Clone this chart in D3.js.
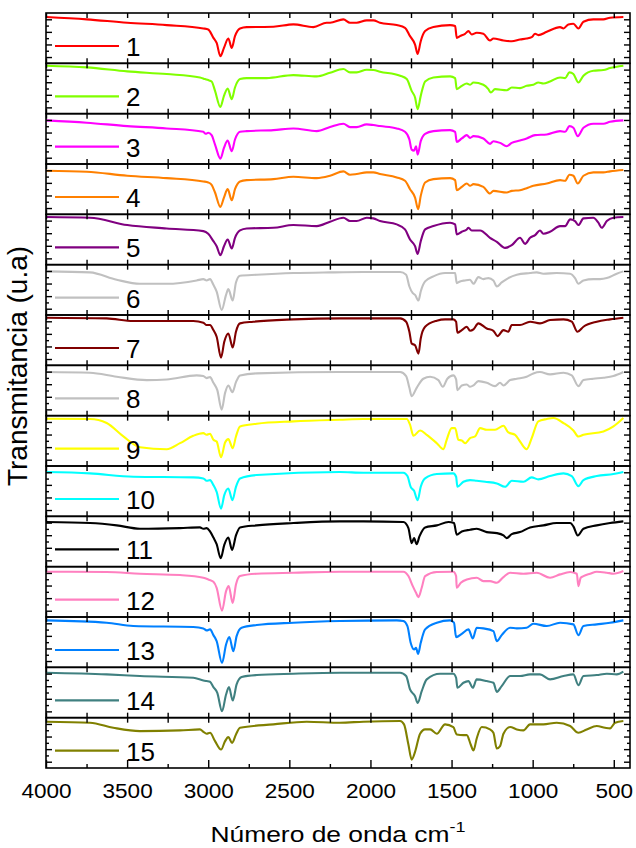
<!DOCTYPE html>
<html>
<head>
<meta charset="utf-8">
<script src="https://cdn.jsdelivr.net/npm/d3@7"></script>
<style>
  body { margin: 0; background: #fff; }
  svg { display: block; }
  text { font-family: "Liberation Sans", Arial, sans-serif; fill: #000; }
</style>
</head>
<body>
<svg id="chart" width="636" height="848"></svg>
<script>
// FTIR spectra of 15 samples, stacked panels (wavenumber in cm-1, transmittance in a.u.)
const sampleLabels = ["1","2","3","4","5","6","7","8","9","10","11","12","13","14","15"];
const sampleColors = ["#ff0000","#80ff00","#ff00ff","#ff8000","#800080","#c0c0c0","#800000",
                      "#c0c0c0","#ffff00","#00ffff","#000000","#ff80c0","#0080ff","#408080","#808000"];
const majorTicks = [4000,3500,3000,2500,2000,1500,1000,500];
const minorTicks = [3750,3250,2750,2250,1750,1250,750];

const spectrum1 = [[4000,138],[3749,131],[3499,121],[3256,114],[3030,104],[3000,101],[2968,76],[2948,61],[2925,21],[2903,46],[2876,74],[2855,46],[2835,81],[2804,104],[2763,108],[2598,109],[2475,116],[2352,108],[2270,121],[2249,121],[2167,131],[2126,121],[2085,121],[2023,128],[1982,128],[1941,121],[1838,114],[1787,106],[1756,81],[1725,56],[1709,28],[1690,66],[1663,96],[1612,108],[1509,114],[1478,111],[1468,76],[1448,81],[1417,88],[1396,96],[1376,86],[1345,91],[1304,88],[1263,68],[1242,74],[1180,68],[1129,66],[1078,71],[1037,74],[1006,78],[985,88],[965,84],[913,94],[831,108],[810,104],[780,116],[749,118],[718,104],[687,124],[626,131],[564,131],[523,136],[441,138]];
const spectrum2 = [[4000,143],[3749,138],[3499,126],[3256,118],[3051,108],[3020,103],[3000,100],[2979,96],[2958,68],[2925,20],[2903,53],[2880,75],[2855,43],[2835,78],[2804,103],[2763,106],[2640,106],[2475,115],[2331,111],[2249,122],[2167,133],[2126,123],[2085,123],[2023,131],[1982,130],[1941,125],[1817,113],[1776,103],[1746,68],[1725,48],[1709,13],[1690,53],[1663,96],[1612,108],[1509,111],[1478,106],[1468,73],[1437,83],[1406,90],[1386,86],[1365,93],[1304,86],[1273,73],[1258,63],[1232,73],[1160,70],[1129,78],[1078,76],[1037,83],[996,86],[965,93],[934,90],[893,96],[831,108],[800,106],[773,123],[749,118],[718,93],[687,113],[626,128],[564,130],[523,136],[441,143]];
const spectrum3 = [[4000,130],[3749,123],[3499,113],[3256,106],[3030,96],[3016,90],[3000,93],[2979,86],[2958,58],[2925,16],[2903,48],[2880,70],[2855,38],[2835,73],[2804,96],[2763,98],[2598,101],[2475,106],[2331,98],[2249,110],[2167,120],[2126,110],[2085,110],[2023,118],[1982,116],[1941,113],[1838,106],[1787,96],[1760,73],[1746,43],[1731,40],[1719,53],[1709,28],[1690,68],[1663,90],[1612,98],[1509,101],[1478,96],[1468,66],[1437,76],[1406,86],[1386,78],[1365,83],[1304,76],[1263,60],[1242,68],[1201,63],[1160,53],[1129,63],[1078,70],[1037,76],[985,86],[913,88],[831,98],[800,96],[773,113],[749,108],[722,83],[687,108],[626,120],[564,120],[523,126],[441,130]];
const spectrum4 = [[4000,130],[3749,127],[3499,115],[3256,108],[3030,98],[3000,95],[2979,88],[2958,65],[2925,22],[2903,50],[2880,75],[2855,42],[2835,75],[2804,98],[2763,102],[2598,105],[2475,112],[2331,108],[2249,115],[2167,128],[2126,118],[2085,120],[2023,125],[1982,125],[1941,120],[1838,110],[1787,100],[1756,75],[1725,50],[1706,15],[1690,55],[1663,95],[1612,105],[1509,108],[1478,102],[1468,72],[1437,82],[1406,92],[1386,85],[1365,90],[1304,82],[1263,62],[1242,70],[1160,65],[1129,70],[1078,72],[1037,78],[996,85],[913,92],[831,102],[800,100],[773,118],[749,115],[722,92],[687,115],[626,125],[564,125],[523,128],[441,132]];
const spectrum5 = [[4000,142],[3729,140],[3499,118],[3256,108],[3030,100],[3000,92],[2968,70],[2948,55],[2925,28],[2903,55],[2880,75],[2855,48],[2835,80],[2804,102],[2763,108],[2598,110],[2475,118],[2331,115],[2249,128],[2167,140],[2126,130],[2085,130],[2023,140],[1982,138],[1941,130],[1838,120],[1787,105],[1756,75],[1725,55],[1709,32],[1690,70],[1663,105],[1612,115],[1509,125],[1478,120],[1468,90],[1437,98],[1406,105],[1396,110],[1376,102],[1324,102],[1263,80],[1221,68],[1170,50],[1129,58],[1078,80],[1047,62],[1016,80],[985,88],[955,102],[934,92],[893,98],[831,115],[800,115],[769,135],[739,130],[718,118],[687,138],[626,140],[595,125],[574,110],[543,130],[502,140],[441,142]];
const spectrum6 = [[4000,130],[3729,127],[3564,105],[3421,93],[3256,93],[3071,103],[3030,107],[3010,103],[2989,107],[2968,90],[2948,70],[2917,15],[2890,60],[2876,77],[2849,43],[2829,97],[2804,117],[2701,120],[2475,125],[2249,127],[2044,128],[1817,128],[1780,120],[1760,85],[1739,65],[1725,60],[1704,43],[1690,70],[1663,100],[1612,115],[1540,125],[1478,125],[1468,95],[1448,100],[1417,103],[1386,105],[1365,93],[1335,113],[1304,107],[1273,110],[1242,103],[1221,85],[1191,97],[1150,110],[1098,120],[1016,125],[975,127],[934,123],[852,125],[769,123],[739,110],[718,93],[687,103],[626,107],[585,107],[543,110],[482,123],[441,130]];
const spectrum7 = [[4000,142],[3626,140],[3462,132],[3092,132],[3030,127],[3010,120],[2989,120],[2968,105],[2948,85],[2921,23],[2901,70],[2876,95],[2849,53],[2829,100],[2804,125],[2722,130],[2475,137],[2188,140],[1817,140],[1780,130],[1760,100],[1746,65],[1725,60],[1704,35],[1690,80],[1663,115],[1591,133],[1540,137],[1489,137],[1472,130],[1464,97],[1437,105],[1406,115],[1386,103],[1365,107],[1335,125],[1283,110],[1242,103],[1217,87],[1180,105],[1150,100],[1129,120],[1078,120],[1016,130],[955,125],[893,135],[810,137],[759,130],[724,100],[687,115],[605,130],[523,137],[441,142]];
const spectrum8 = [[4000,130],[3729,128],[3564,116],[3379,106],[3256,108],[3071,120],[3030,118],[3010,112],[2989,115],[2968,98],[2944,76],[2917,18],[2896,68],[2876,90],[2851,70],[2829,100],[2804,120],[2701,126],[2188,130],[1817,130],[1780,118],[1760,83],[1746,58],[1715,83],[1674,110],[1632,116],[1581,106],[1554,86],[1526,110],[1489,120],[1472,108],[1464,76],[1437,90],[1406,93],[1386,86],[1365,90],[1335,103],[1283,98],[1232,88],[1201,98],[1180,90],[1139,106],[1098,110],[1037,116],[996,126],[955,130],[893,123],[810,128],[759,120],[718,88],[687,106],[626,110],[564,113],[502,118],[441,130]];
const spectrum9 = [[4000,141],[3729,140],[3626,128],[3523,88],[3421,56],[3256,50],[3174,68],[3092,90],[3030,98],[3010,93],[2989,96],[2968,78],[2948,73],[2921,26],[2896,70],[2876,80],[2849,53],[2829,88],[2804,118],[2701,126],[2475,133],[2188,138],[2044,140],[1776,140],[1756,123],[1735,90],[1694,106],[1653,93],[1591,68],[1550,50],[1530,78],[1499,113],[1478,113],[1458,78],[1437,76],[1417,68],[1386,83],[1355,88],[1324,113],[1283,108],[1232,108],[1180,120],[1150,100],[1108,93],[1078,73],[1037,50],[1006,83],[965,133],[913,140],[872,143],[810,128],[749,106],[718,88],[687,93],[564,103],[502,118],[441,143]];
const spectrum10 = [[4000,132],[3729,128],[3462,118],[3092,116],[3030,113],[3010,106],[2989,108],[2968,93],[2948,73],[2921,23],[2901,63],[2876,83],[2851,48],[2829,88],[2804,113],[2701,123],[2188,132],[2044,130],[1797,130],[1772,120],[1752,88],[1731,76],[1709,48],[1690,88],[1663,113],[1591,126],[1489,128],[1472,118],[1464,88],[1427,103],[1386,108],[1345,106],[1293,103],[1221,98],[1170,88],[1129,106],[1057,103],[1006,116],[965,110],[893,120],[810,128],[759,120],[718,90],[687,108],[605,120],[502,126],[441,132]];
const spectrum11 = [[4000,133],[3729,130],[3564,123],[3421,113],[3174,115],[3051,117],[3030,113],[3010,115],[2989,105],[2968,87],[2948,67],[2923,25],[2901,65],[2876,87],[2853,50],[2829,93],[2804,117],[2701,123],[2475,130],[2188,135],[2044,135],[1797,133],[1766,115],[1746,70],[1731,85],[1715,67],[1698,90],[1663,117],[1591,123],[1519,133],[1485,130],[1468,95],[1437,105],[1386,110],[1345,113],[1283,103],[1221,100],[1180,93],[1160,85],[1129,97],[1078,103],[1016,117],[934,123],[852,130],[769,130],[749,120],[722,93],[687,113],[605,123],[523,130],[441,135]];
const spectrum12 = [[4000,135],[3626,134],[3421,129],[3174,125],[3030,117],[3000,112],[2968,105],[2948,87],[2915,19],[2890,77],[2874,92],[2849,42],[2829,97],[2804,122],[2701,129],[2475,132],[2188,135],[1797,135],[1766,122],[1739,92],[1719,72],[1704,59],[1684,87],[1663,122],[1591,134],[1489,135],[1472,122],[1468,87],[1443,102],[1406,112],[1345,117],[1304,107],[1263,107],[1221,102],[1180,119],[1139,132],[1057,129],[975,132],[893,117],[831,127],[769,134],[728,129],[718,92],[704,117],[687,122],[646,129],[605,135],[543,132],[502,129],[441,137]];
const spectrum13 = [[4000,140],[3626,133],[3462,123],[3092,120],[3030,116],[3010,110],[2989,113],[2968,96],[2948,78],[2915,13],[2890,68],[2870,90],[2845,48],[2825,93],[2794,118],[2701,126],[2475,133],[2188,138],[1838,140],[1797,138],[1772,123],[1752,73],[1731,53],[1719,58],[1706,40],[1690,73],[1663,113],[1591,133],[1509,140],[1485,133],[1472,90],[1437,100],[1396,113],[1369,86],[1345,118],[1304,116],[1242,108],[1221,78],[1191,96],[1139,118],[1098,116],[1037,118],[996,130],[913,123],[831,133],[749,128],[718,96],[687,123],[605,128],[523,133],[441,140]];
const spectrum14 = [[4000,134],[3626,129],[3421,124],[3092,119],[3030,111],[3010,109],[2989,107],[2968,91],[2944,74],[2915,19],[2890,69],[2872,91],[2849,51],[2825,99],[2794,121],[2701,127],[2475,131],[2188,134],[1817,134],[1780,124],[1756,84],[1725,64],[1709,44],[1684,79],[1653,114],[1571,131],[1489,131],[1472,119],[1464,89],[1427,104],[1396,109],[1369,89],[1345,114],[1283,109],[1242,104],[1221,77],[1191,94],[1139,124],[1078,124],[1016,129],[955,129],[893,114],[810,124],[749,129],[718,97],[687,124],[605,127],[543,131],[482,129],[441,137]];
const spectrum15 = [[4000,138],[3729,135],[3585,120],[3421,110],[3174,112],[3051,115],[3030,108],[3010,102],[2989,105],[2958,80],[2921,55],[2896,80],[2876,92],[2853,75],[2829,100],[2804,120],[2598,130],[2393,138],[2188,135],[2044,138],[1817,140],[1793,130],[1766,70],[1746,25],[1725,48],[1694,102],[1663,115],[1632,115],[1591,102],[1540,130],[1489,122],[1468,100],[1427,98],[1406,98],[1382,70],[1365,52],[1345,88],[1314,122],[1263,115],[1242,105],[1221,58],[1201,65],[1180,102],[1139,122],[1098,115],[1057,112],[1016,130],[934,130],[852,135],[769,125],[718,105],[667,115],[605,125],[554,120],[523,118],[492,135],[441,140]];

const spectra = [spectrum1, spectrum2, spectrum3, spectrum4, spectrum5, spectrum6, spectrum7, spectrum8,
                 spectrum9, spectrum10, spectrum11, spectrum12, spectrum13, spectrum14, spectrum15];

const svg = d3.select("#chart");
const plot = { left: 46, right: 630, top: 13, bottom: 768 };

const x = d3.scaleLinear().domain([4000, 400]).range([plot.left, plot.right]);
const band = d3.scaleBand().domain(sampleLabels).range([plot.top, plot.bottom]).padding(0);
const ph = band.bandwidth();
const y = d3.scaleLinear().domain([0, 150]).range([ph, 0]);
const yTickVals = d3.range(1, 8).map(i => i * 150 / 8);

const line = d3.line()
  .x(d => x(d[0]))
  .y(d => y(d[1]))
  .curve(d3.curveMonotoneX);

sampleLabels.forEach((label, i) => {
  const g = svg.append("g").attr("transform", `translate(0,${band(label)})`);
  const last = i === sampleLabels.length - 1;

  // spectrum
  g.append("path")
    .datum(spectra[i])
    .attr("fill", "none")
    .attr("stroke", sampleColors[i])
    .attr("stroke-width", 2.1)
    .attr("stroke-linejoin", "round")
    .attr("d", line);

  // legend entry
  g.append("line")
    .attr("x1", 55).attr("x2", 119)
    .attr("y1", 33).attr("y2", 33)
    .attr("stroke", sampleColors[i]).attr("stroke-width", 2.1);
  g.append("text")
    .attr("x", 126).attr("y", 43)
    .attr("font-size", 26)
    .text(label);

  // inward ticks on all four sides
  const tickStyle = sel => {
    sel.select(".domain").remove();
    sel.selectAll(".tick line").attr("stroke", "#000").attr("stroke-width", 1.4);
  };
  g.append("g").call(d3.axisTop(x).tickValues(majorTicks.concat(minorTicks)).tickSize(-5).tickFormat("")).call(tickStyle);
  if (!last) {
    g.append("g").attr("transform", `translate(0,${ph})`)
      .call(d3.axisBottom(x).tickValues(majorTicks.concat(minorTicks)).tickSize(-5).tickFormat("")).call(tickStyle);
  }
  const yl = g.append("g").attr("transform", `translate(${plot.left},0)`)
    .call(d3.axisLeft(y).tickValues(yTickVals).tickSize(-4).tickFormat("")).call(tickStyle);
  yl.selectAll(".tick line").attr("x2", (d, k) => k % 2 === 0 ? 6 : 3);
  const yr = g.append("g").attr("transform", `translate(${plot.right},0)`)
    .call(d3.axisRight(y).tickValues(yTickVals).tickSize(-4).tickFormat("")).call(tickStyle);
  yr.selectAll(".tick line").attr("x2", (d, k) => k % 2 === 0 ? -6 : -3);

  // panel frame
  g.append("rect")
    .attr("x", plot.left).attr("y", 0)
    .attr("width", plot.right - plot.left).attr("height", ph)
    .attr("fill", "none").attr("stroke", "#000").attr("stroke-width", 1.6);
});

// bottom wavenumber axis
const bottomAxis = svg.append("g").attr("transform", `translate(0,${plot.bottom})`);
bottomAxis.append("g")
  .call(d3.axisBottom(x).tickValues(minorTicks).tickSize(-4).tickFormat(""))
  .call(s => { s.select(".domain").remove(); s.selectAll(".tick line").attr("stroke", "#000").attr("stroke-width", 1.4); });
bottomAxis.append("g")
  .call(d3.axisBottom(x).tickValues(majorTicks).tickSizeInner(-8).tickSizeOuter(0).tickPadding(15).tickFormat(d3.format("d")))
  .call(s => {
    s.select(".domain").remove();
    s.selectAll(".tick line").attr("stroke", "#000").attr("stroke-width", 1.4);
    s.selectAll(".tick text")
      .attr("font-family", "Liberation Sans, Arial, sans-serif")
      .attr("font-size", 20.5).attr("fill", "#000")
      .attr("transform", "scale(1.1,1)");
  });

// axis titles
const xTitle = svg.append("text")
  .attr("transform", "translate(338,842) scale(1.2,1)")
  .attr("text-anchor", "middle")
  .attr("font-size", 22);
xTitle.append("tspan").text("Número de onda cm");
xTitle.append("tspan").attr("dy", -10).attr("font-size", 15).text("-1");

svg.append("text")
  .attr("transform", "translate(27,366) rotate(-90)")
  .attr("text-anchor", "middle")
  .attr("font-size", 28)
  .text("Transmitancia (u.a)");
</script>
</body>
</html>
